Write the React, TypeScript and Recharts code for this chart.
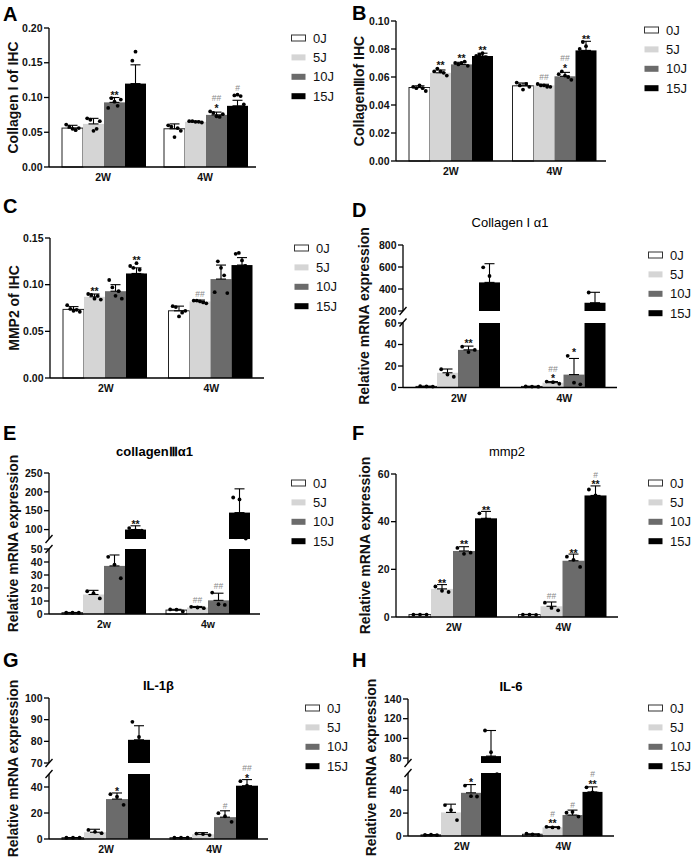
import React from 'react';
import { BarChart, Bar, XAxis, YAxis, ErrorBar } from 'recharts';

const FONT = "'Liberation Sans', Arial, Helvetica, sans-serif";
const SERIES = ['0J', '5J', '10J', '15J'];
const FILLS = ['#ffffff', '#d5d5d5', '#6b6b6b', '#000000'];
const STROKES = ['#222222', 'none', 'none', 'none'];

const GROUPS_UP = ['2W', '4W'];
const GROUPS_LOW = ['2w', '4w'];

// ---------- Panel A : Collagen I of IHC ----------
const A_MEANS = [[0.056, 0.062, 0.093, 0.12], [0.055, 0.065, 0.075, 0.088]];
const A_SD = [[0.004, 0.008, 0.007, 0.027], [0.007, 0.001, 0.004, 0.008]];
const A_DOTS = [
  [[0.061, 0.058, 0.055, 0.053, 0.056], [0.07, 0.068, 0.052, 0.055, 0.066], [0.085, 0.099, 0.094, 0.088, 0.097], [0.095, 0.153, 0.166, 0.11, 0.09]],
  [[0.06, 0.058, 0.043, 0.056, 0.052], [0.066, 0.066, 0.065, 0.065, 0.064], [0.08, 0.078, 0.073, 0.072, 0.076], [0.08, 0.103, 0.104, 0.102, 0.09]],
];
const A_MARKS = [[[], [], ['**'], []], [[], [], ['##', '*'], ['#']]];

// ---------- Panel B : Collagen III of IHC ----------
const B_MEANS = [[0.0525, 0.063, 0.069, 0.075], [0.0537, 0.054, 0.0605, 0.079]];
const B_SD = [[0.0012, 0.002, 0.0015, 0.002], [0.002, 0.0008, 0.0028, 0.0065]];
const B_DOTS = [
  [[0.053, 0.052, 0.054, 0.052, 0.05], [0.064, 0.066, 0.064, 0.063, 0.061], [0.07, 0.069, 0.07, 0.071, 0.068], [0.075, 0.076, 0.077, 0.074, 0.073]],
  [[0.056, 0.054, 0.051, 0.055, 0.053], [0.055, 0.054, 0.054, 0.053, 0.053], [0.062, 0.064, 0.061, 0.06, 0.058], [0.08, 0.085, 0.082, 0.078, 0.074]],
];
const B_MARKS = [[[], ['**'], ['**'], ['**']], [[], ['##'], ['##', '*'], ['**']]];

// ---------- Panel C : MMP2 of IHC ----------
const C_MEANS = [[0.0735, 0.087, 0.093, 0.112], [0.072, 0.082, 0.106, 0.121]];
const C_SD = [[0.003, 0.003, 0.007, 0.006], [0.005, 0.0015, 0.015, 0.008]];
const C_DOTS = [
  [[0.078, 0.074, 0.072, 0.073, 0.071], [0.09, 0.089, 0.085, 0.088, 0.084], [0.105, 0.097, 0.088, 0.093, 0.085], [0.12, 0.118, 0.123, 0.116, 0.11]],
  [[0.077, 0.076, 0.066, 0.07, 0.072], [0.083, 0.083, 0.082, 0.081, 0.08], [0.092, 0.125, 0.118, 0.11, 0.091], [0.133, 0.134, 0.126, 0.12, 0.115]],
];
const C_MARKS = [[[], ['**'], [], ['**']], [[], ['##'], [], []]];

// ---------- Panel D : Collagen I alpha1 ----------
const D_MEANS = [[1, 13.7, 35, 460], [1, 4.5, 12, 275]];
const D_SD = [[0.2, 3.5, 3.5, 170], [0.1, 1.0, 15, 95]];
const D_DOTS = [
  [[1.2, 1.0, 0.9], [17, 12, 10], [38, 33, 35], [597, 518, 265]],
  [[1, 0.9, 0.8], [5.5, 5, 3.5], [29.5, 4.5, 3], [368, 240, 217]],
];
const D_MARKS = [[[], [], ['**'], []], [[], ['##', '*'], ['*'], []]];

// ---------- Panel E : collagen III alpha1 ----------
const E_MEANS = [[1, 15, 37, 100], [3, 5, 10.5, 145]];
const E_SD = [[0.2, 3.2, 8.4, 10], [0.6, 0.8, 5.5, 63]];
const E_DOTS = [
  [[1, 1, 1], [17.5, 16, 12], [44, 38, 27.5], [104, 98, 97]],
  [[3.5, 3.3, 2], [5.5, 5, 4.5], [16.5, 7.5, 7], [185, 180, 76]],
];
const E_MARKS = [[[], [], [], ['**']], [[], ['##'], ['##'], []]];

// ---------- Panel F : mmp2 ----------
const F_MEANS = [[1, 11.8, 27.7, 41.4], [1, 4.5, 23.6, 51]];
const F_SD = [[0.1, 1.8, 1.8, 2.9], [0.1, 1.8, 2.8, 4]];
const F_DOTS = [
  [[1, 1, 1], [12.8, 11, 10.5], [29, 26.5, 27], [43.5, 41, 40]],
  [[1, 1, 0.9], [6, 3.8, 2.8], [25.3, 24, 21], [53.5, 51, 50]],
];
const F_MARKS = [[[], ['**'], ['**'], ['**']], [[], ['##'], ['**'], ['#', '**']]];

// ---------- Panel G : IL-1beta ----------
const G_MEANS = [[1, 5.2, 30.7, 80.7], [1, 3.6, 16.8, 41]];
const G_SD = [[0.1, 2.3, 4.7, 6.5], [0.1, 1.3, 4.9, 4.7]];
const G_DOTS = [
  [[1, 1, 1], [7, 5.5, 4.5], [34.5, 32.5, 26.3], [89, 82, 72]],
  [[1, 1, 1], [4.2, 3.8, 3], [19.9, 17.5, 13.2], [44.5, 41, 38]],
];
const G_MARKS = [[[], [], ['*'], []], [[], [], ['#'], ['##', '*']]];

// ---------- Panel H : IL-6 ----------
const H_MEANS = [[1, 20.6, 37.7, 82], [1.5, 7.5, 18.3, 38.5]];
const H_SD = [[0.2, 7.2, 7.2, 26], [0.3, 0.6, 4.3, 4.4]];
const H_DOTS = [
  [[1, 1.2, 0.8], [27, 22.6, 13.9], [44, 34.8, 34.5], [108, 86, 54]],
  [[2, 1.5, 1], [8, 7.5, 7.3], [20.3, 21, 17], [42.5, 38, 37]],
];
const H_MARKS = [[[], [], ['*'], []], [[], ['#', '**'], ['#'], ['#', '**']]];

// ---------- layout constants ----------
const YW = 50;
const MT = 18;
const MR = 8;
const XH = 24;

type Seg = { min: number; max: number; ticks: number[]; T: number; B: number; dec: number };
type PanelCfg = {
  letter: string; letterX: number; letterY: number;
  title?: string; titleY?: number; titleBold?: boolean;
  yLabel: string; yLabelX: number; yLabelBold: boolean; yLabelSize: number;
  L: number; R: number;
  groups: string[];
  means: number[][]; sds: number[][]; dots: number[][][]; marks: string[][][];
  segs: Seg[];
  legendX: number; legendY: number;
};

const PANELS: PanelCfg[] = [
  {
    letter: 'A', letterX: 3, letterY: 21,
    yLabel: 'Collagen I of IHC', yLabelX: 18, yLabelBold: true, yLabelSize: 14,
    L: 49, R: 256, groups: GROUPS_UP, means: A_MEANS, sds: A_SD, dots: A_DOTS, marks: A_MARKS,
    segs: [{ min: 0, max: 0.2, ticks: [0, 0.05, 0.1, 0.15, 0.2], T: 28, B: 167, dec: 2 }],
    legendX: 291, legendY: 38,
  },
  {
    letter: 'B', letterX: 352, letterY: 20,
    yLabel: 'Collagen\u2162of IHC', yLabelX: 364, yLabelBold: true, yLabelSize: 14,
    L: 396, R: 606, groups: GROUPS_UP, means: B_MEANS, sds: B_SD, dots: B_DOTS, marks: B_MARKS,
    segs: [{ min: 0, max: 0.1, ticks: [0, 0.02, 0.04, 0.06, 0.08, 0.1], T: 21, B: 161, dec: 2 }],
    legendX: 644, legendY: 30,
  },
  {
    letter: 'C', letterX: 3, letterY: 213,
    yLabel: 'MMP2 of IHC', yLabelX: 19, yLabelBold: true, yLabelSize: 14,
    L: 50, R: 264, groups: GROUPS_UP, means: C_MEANS, sds: C_SD, dots: C_DOTS, marks: C_MARKS,
    segs: [{ min: 0, max: 0.15, ticks: [0, 0.05, 0.1, 0.15], T: 238, B: 378, dec: 2 }],
    legendX: 294, legendY: 248,
  },
  {
    letter: 'D', letterX: 352, letterY: 217,
    title: 'Collagen I \u03b11', titleY: 227, titleBold: false,
    yLabel: 'Relative mRNA expression', yLabelX: 369, yLabelBold: true, yLabelSize: 14,
    L: 403, R: 617, groups: GROUPS_UP, means: D_MEANS, sds: D_SD, dots: D_DOTS, marks: D_MARKS,
    segs: [
      { min: 200, max: 800, ticks: [200, 400, 600, 800], T: 245, B: 311, dec: 0 },
      { min: 0, max: 60, ticks: [0, 20, 40, 60], T: 322.5, B: 387, dec: 0 },
    ],
    legendX: 648, legendY: 255,
  },
  {
    letter: 'E', letterX: 3, letterY: 440,
    title: 'collagen\u2162\u03b11', titleY: 456, titleBold: true,
    yLabel: 'Relative mRNA expression', yLabelX: 18, yLabelBold: true, yLabelSize: 14,
    L: 49, R: 260, groups: GROUPS_LOW, means: E_MEANS, sds: E_SD, dots: E_DOTS, marks: E_MARKS,
    segs: [
      { min: 75, max: 250, ticks: [100, 150, 200, 250], T: 473, B: 539, dec: 0 },
      { min: 0, max: 50, ticks: [0, 10, 20, 30, 40, 50], T: 549, B: 614, dec: 0 },
    ],
    legendX: 291, legendY: 483,
  },
  {
    letter: 'F', letterX: 352, letterY: 440,
    title: 'mmp2', titleY: 456, titleBold: false,
    yLabel: 'Relative mRNA expression', yLabelX: 370, yLabelBold: true, yLabelSize: 14,
    L: 396, R: 618, groups: GROUPS_UP, means: F_MEANS, sds: F_SD, dots: F_DOTS, marks: F_MARKS,
    segs: [{ min: 0, max: 60, ticks: [0, 20, 40, 60], T: 474, B: 617, dec: 0 }],
    legendX: 648, legendY: 483,
  },
  {
    letter: 'G', letterX: 3, letterY: 667,
    title: 'IL-1\u03b2', titleY: 690, titleBold: true,
    yLabel: 'Relative mRNA expression', yLabelX: 18, yLabelBold: true, yLabelSize: 14,
    L: 49, R: 268, groups: GROUPS_UP, means: G_MEANS, sds: G_SD, dots: G_DOTS, marks: G_MARKS,
    segs: [
      { min: 70, max: 100, ticks: [70, 80, 90, 100], T: 698, B: 763, dec: 0 },
      { min: 0, max: 50, ticks: [0, 20, 40], T: 774, B: 839, dec: 0 },
    ],
    legendX: 305, legendY: 708,
  },
  {
    letter: 'H', letterX: 352, letterY: 667,
    title: 'IL-6', titleY: 691, titleBold: true,
    yLabel: 'Relative mRNA expression', yLabelX: 376, yLabelBold: true, yLabelSize: 14,
    L: 408, R: 614, groups: GROUPS_UP, means: H_MEANS, sds: H_SD, dots: H_DOTS, marks: H_MARKS,
    segs: [
      { min: 75, max: 140, ticks: [80, 100, 120, 140], T: 699, B: 763, dec: 0 },
      { min: 0, max: 55, ticks: [0, 20, 40], T: 773, B: 836, dec: 0 },
    ],
    legendX: 648, legendY: 708,
  },
];

const makeShape = (si: number, seg: Seg) => (props: any) => {
  const { x, y, width, height, payload } = props;
  const m = payload ? payload['m' + si] : null;
  if (m == null || !isFinite(y) || !height || !isFinite(height)) return <g />;
  const ppu = height / (m - seg.min);
  const y0 = y + height;
  const toY = (v: number) => y0 - (v - seg.min) * ppu;
  const dots: number[] = payload['d' + si] || [];
  const n = dots.length;
  const marks: string[] = payload['k' + si] || [];
  const err = payload['e' + si];
  const mean = payload['r' + si];
  let top = Infinity;
  if (err) top = Math.min(top, toY(mean + err[1]));
  const circles: React.ReactNode[] = [];
  dots.forEach((d, k) => {
    if (d < seg.min || d > seg.max) return;
    const cx = x + width * (n > 1 ? 0.2 + (0.6 * k) / (n - 1) : 0.5);
    const cy = toY(d);
    top = Math.min(top, cy - 2);
    circles.push(<circle key={'c' + k} cx={cx} cy={cy} r={1.9} fill="#000" />);
  });
  const texts: React.ReactNode[] = [];
  if (marks.length && isFinite(top)) {
    let cur = top - 1.5;
    for (let j = marks.length - 1; j >= 0; j--) {
      const t = marks[j];
      const star = t.indexOf('*') >= 0;
      const base = star ? cur + 4 : cur - 0.5;
      texts.push(
        <text key={'t' + j} x={x + width / 2} y={base} textAnchor="middle"
          fontSize={star ? 10.5 : 8.5} fontWeight={star ? 700 : 400}
          fill={star ? '#111' : '#8a8a8a'} fontFamily={FONT}>{t}</text>
      );
      cur = base - (star ? 10 : 9);
    }
  }
  return (
    <g>
      <rect x={x} y={y} width={width} height={height} fill={FILLS[si]}
        stroke={STROKES[si]} strokeWidth={STROKES[si] === 'none' ? 0 : 1} />
      {circles}
      {texts}
    </g>
  );
};

function Segment({ p, seg, bottom }: { p: PanelCfg; seg: Seg; bottom: boolean }) {
  const plotW = p.R - p.L;
  const plotH = seg.B - seg.T;
  const xh = bottom ? XH : 0;
  const mb = bottom ? 2 : 7;
  const width = plotW + YW + MR;
  const height = plotH + MT + xh + mb;
  const rows = p.groups.map((g, gi) => {
    const row: any = { group: g };
    SERIES.forEach((_, si) => {
      const m = p.means[gi][si];
      const inSeg = m >= seg.min && m <= seg.max;
      // bars of the lower part of a broken axis stop at the break
      row['m' + si] = m >= seg.min ? Math.min(m, seg.max) : null;
      row['r' + si] = m;
      row['e' + si] = inSeg ? [0, p.sds[gi][si]] : null;
      row['d' + si] = m >= seg.min ? p.dots[gi][si] : [];
      row['k' + si] = inSeg ? p.marks[gi][si] : [];
    });
    return row;
  });
  const tickStyle = { fontSize: 10.5, fontWeight: 700, fill: '#111', fontFamily: FONT };
  return (
    <div style={{ position: 'absolute', left: p.L - YW, top: seg.T - MT }}>
      <BarChart width={width} height={height} data={rows}
        margin={{ top: MT, right: MR, left: 0, bottom: mb }}
        barCategoryGap={10} barGap={0}>
        <XAxis dataKey="group" hide={!bottom} height={xh} interval={0}
          padding={{ left: 3, right: 0 }}
          axisLine={{ stroke: '#000', strokeWidth: 1.3 }} tickLine={false}
          tickSize={5} tickMargin={2} tick={tickStyle} />
        <YAxis type="number" domain={[seg.min, seg.max]} ticks={seg.ticks} interval={0}
          width={YW}
          axisLine={{ stroke: '#000', strokeWidth: 1.3 }}
          tickLine={{ stroke: '#000', strokeWidth: 1.3 }} tickSize={5} tickMargin={1.5}
          tick={tickStyle}
          tickFormatter={(v: number) => (seg.dec ? v.toFixed(seg.dec) : String(v))} />
        {SERIES.map((s, si) => (
          <Bar key={s} dataKey={'m' + si} name={s} fill={FILLS[si]} isAnimationActive={false}
            shape={makeShape(si, seg)}>
            <ErrorBar dataKey={'e' + si} width={5} stroke="#000" strokeWidth={1.1} direction="y" />
          </Bar>
        ))}
      </BarChart>
    </div>
  );
}

function Overlay() {
  const items: React.ReactNode[] = [];
  PANELS.forEach((p, pi) => {
    items.push(
      <text key={'L' + pi} x={p.letterX} y={p.letterY} fontSize={20} fontWeight={700} fill="#000" fontFamily={FONT}>{p.letter}</text>
    );
    if (p.title) {
      items.push(
        <text key={'T' + pi} x={(p.L + p.R) / 2} y={p.titleY} fontSize={13} fontWeight={p.titleBold ? 700 : 400}
          textAnchor="middle" fill="#000" fontFamily={FONT}>{p.title}</text>
      );
    }
    const top = p.segs[0].T;
    const bot = p.segs[p.segs.length - 1].B;
    const cy = (top + bot) / 2;
    items.push(
      <text key={'Y' + pi} x={p.yLabelX} y={cy} fontSize={p.yLabelSize} fontWeight={p.yLabelBold ? 700 : 400}
        textAnchor="middle" fill="#111" fontFamily={FONT}
        transform={`rotate(-90 ${p.yLabelX} ${cy})`}>{p.yLabel}</text>
    );
    if (p.segs.length === 2) {
      const yu = p.segs[0].B;
      const yl = p.segs[1].T;
      [yu, yl].forEach((yy, k) => {
        items.push(
          <line key={'brk' + pi + k} x1={p.L - 3.5} y1={yy + 4} x2={p.L + 3.5} y2={yy - 4} stroke="#000" strokeWidth={1.3} />
        );
      });
    }
    SERIES.forEach((s, si) => {
      const yy = p.legendY + si * 19.4;
      items.push(
        <rect key={'lr' + pi + si} x={p.legendX + 0.5} y={yy - 3} width={14} height={6} fill={FILLS[si]}
          stroke={si === 0 ? '#333' : 'none'} strokeWidth={1} />
      );
      items.push(
        <text key={'lt' + pi + si} x={p.legendX + 22} y={yy + 4.6} fontSize={13} fill="#111" fontFamily={FONT}>{s}</text>
      );
    });
  });
  return (
    <svg width={692} height={858} style={{ position: 'absolute', left: 0, top: 0, pointerEvents: 'none' }}>
      {items}
    </svg>
  );
}

export default function App() {
  return (
    <div style={{ position: 'absolute', left: 0, top: 0, width: 692, height: 858, background: '#fff', overflow: 'hidden', fontFamily: FONT }}>
      {PANELS.map((p, pi) =>
        p.segs.map((seg, k) => (
          <Segment key={pi + '-' + k} p={p} seg={seg} bottom={k === p.segs.length - 1} />
        ))
      )}
      <Overlay />
    </div>
  );
}
